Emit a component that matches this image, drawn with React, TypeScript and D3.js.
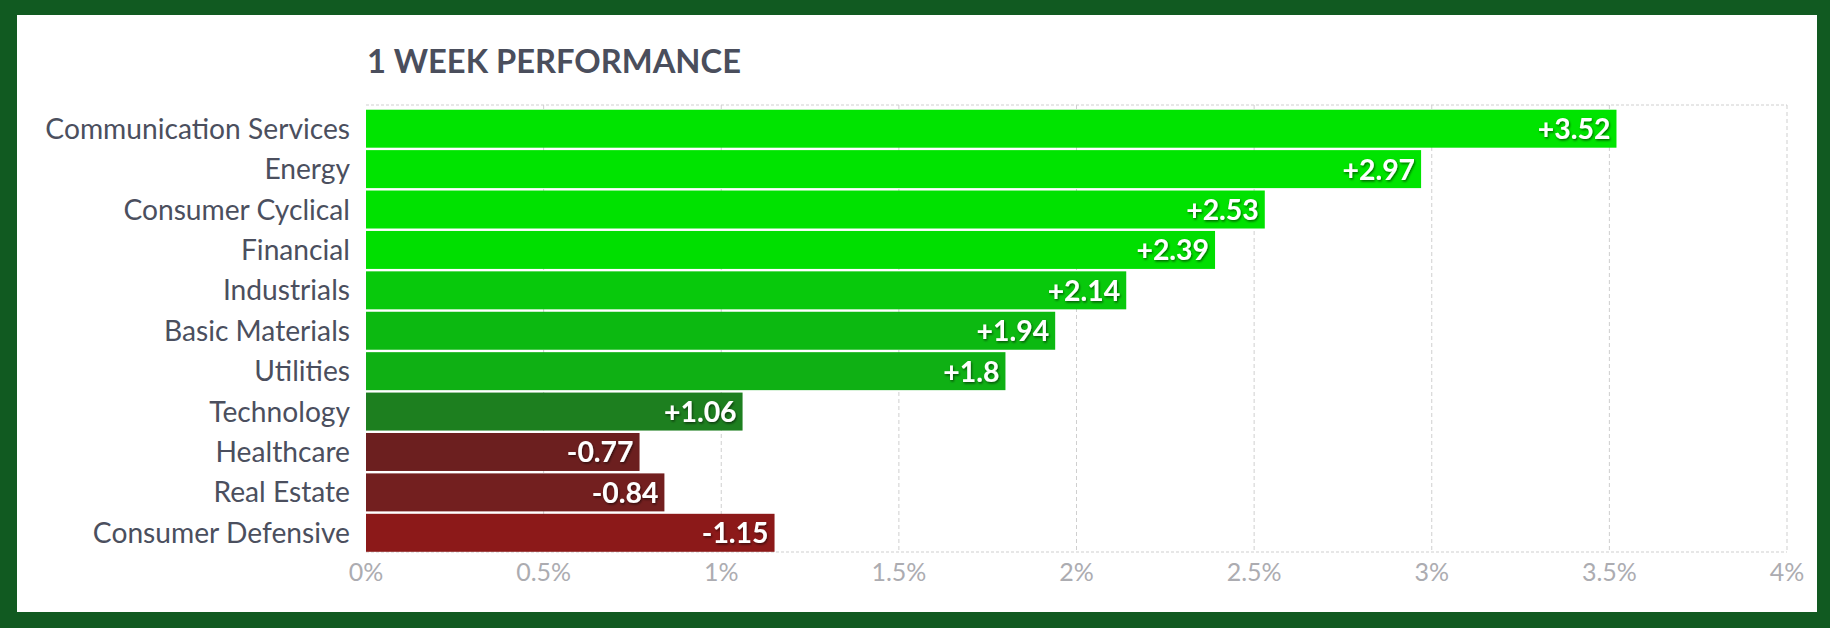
import React from "react";
import * as d3 from "d3";

const categories = [
  "Communication Services",
  "Energy",
  "Consumer Cyclical",
  "Financial",
  "Industrials",
  "Basic Materials",
  "Utilities",
  "Technology",
  "Healthcare",
  "Real Estate",
  "Consumer Defensive",
];
const values = [3.52, 2.97, 2.53, 2.39, 2.14, 1.94, 1.8, 1.06, -0.77, -0.84, -1.15];
const barColors = [
  "#00e400", "#00e400", "#00e200", "#00df00", "#08c90c", "#0cb911", "#0fb014",
  "#1d7f1f", "#6c1f1f", "#731f1f", "#8c1919",
];
const tickValues = [0, 0.5, 1, 1.5, 2, 2.5, 3, 3.5, 4];
const tickLabels = ["0%", "0.5%", "1%", "1.5%", "2%", "2.5%", "3%", "3.5%", "4%"];

const W = 1830;
const H = 628;
const plotLeft = 366;
const plotRight = 1787;
const plotTop = 105;
const plotBottom = 552;

export default function App() {
  const x = d3.scaleLinear().domain([0, 4]).range([plotLeft, plotRight]);
  const y = d3
    .scaleBand<string>()
    .domain(categories)
    .range([108.5, 553])
    .paddingInner(0.06)
    .paddingOuter(0.03);
  const font = "Lato, 'Open Sans', sans-serif";
  return (
    <svg
      width={W}
      height={H}
      style={{ position: "absolute", left: 0, top: 0 }}
      fontFamily={font}
    >
      <defs>
        <filter id="sh" x="-20%" y="-30%" width="140%" height="160%">
          <feDropShadow dx="1" dy="1.5" stdDeviation="1" floodColor="#000" floodOpacity="0.55" />
        </filter>
      </defs>
      <rect x={0} y={0} width={W} height={H} fill="#115a21" />
      <rect x={17} y={15} width={1800} height={597} fill="#ffffff" />
      <text x={367} y={73} fontSize={32.7} fontWeight={700} fill="#4a4e5c">
        1 WEEK PERFORMANCE
      </text>
      {tickValues.slice(1).map((t) => (
        <line
          key={"g" + t}
          x1={x(t)}
          x2={x(t)}
          y1={plotTop}
          y2={plotBottom}
          stroke="#cfcfcf"
          strokeWidth={1}
          strokeDasharray="4,3"
        />
      ))}
      <line x1={plotLeft} x2={plotRight} y1={plotTop} y2={plotTop} stroke="#cfcfcf" strokeDasharray="3,2" />
      <line x1={plotLeft} x2={plotRight} y1={plotBottom} y2={plotBottom} stroke="#cfcfcf" strokeDasharray="3,2" />
      {categories.map((c, i) => {
        const v = values[i];
        const yy = y(c)!;
        const bw = y.bandwidth();
        const x1 = x(Math.abs(v));
        return (
          <g key={c}>
            <rect x={plotLeft} y={yy} width={x1 - plotLeft} height={bw} fill={barColors[i]} />
            <text
              x={x1 - 6}
              y={yy + bw / 2 + 10.5}
              textAnchor="end"
              fontSize={28.4}
              fontWeight={700}
              fill="#ffffff"
              filter="url(#sh)"
            >
              {(v > 0 ? "+" : "") + v}
            </text>
            <text
              x={350}
              y={yy + bw / 2 + 10}
              textAnchor="end"
              fontSize={28.2}
              fill="#4b4f5e"
            >
              {c}
            </text>
          </g>
        );
      })}
      {tickValues.map((t, i) => (
        <text
          key={"t" + t}
          x={x(t)}
          y={580.5}
          textAnchor="middle"
          fontSize={25}
          fontWeight={400}
          fill="#acacb1"
        >
          {tickLabels[i]}
        </text>
      ))}
    </svg>
  );
}
